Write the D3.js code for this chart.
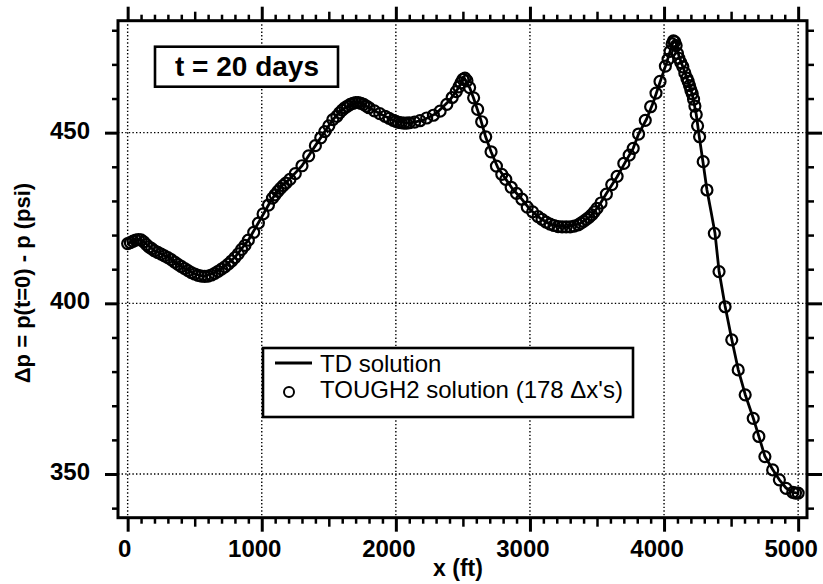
<!DOCTYPE html>
<html>
<head>
<meta charset="utf-8">
<script src="https://cdn.jsdelivr.net/npm/d3@7"></script>
<style>
  html, body { margin: 0; padding: 0; background: #fff; }
  svg { display: block; font-family: "Liberation Sans", Arial, Helvetica, sans-serif; }
</style>
</head>
<body>
<svg id="chart" width="823" height="584"></svg>
<script>
// ---- data ----
const titleText = "t = 20 days";
const xLabel = "x (ft)";
const yLabel = "\u0394p = p(t=0) - p (psi)";
const legendLine = "TD solution";
const legendCircle = "TOUGH2 solution (178 \u0394x's)";

const xTickValues = [0, 1000, 2000, 3000, 4000, 5000];
const xTickLabels = ["0", "1000", "2000", "3000", "4000", "5000"];
const yTickValues = [350, 400, 450];
const yTickLabels = ["350", "400", "450"];

// TD solution (line)
const tdX = [0,50,100,150,200,300,400,500,570,650,700,800,900,1000,1070,1150,1200,1300,1400,1470,1530,1600,1700,1750,1800,1900,2000,2100,2200,2300,2400,2470,2510,2550,2580,2630,2670,2710,2760,2820,2870,2930,3000,3080,3160,3270,3370,3450,3510,3570,3650,3710,3770,3810,3870,3920,3970,4020,4060,4075,4090,4110,4140,4180,4210,4240,4262,4290,4320,4350,4380,4410,4455,4505,4553,4605,4665,4707,4752,4810,4860,4910,4960,5000];
const tdY = [417.6,418.3,418.7,417.0,415.5,413.5,410.8,408.6,407.9,409.0,410.2,413.5,418.5,425.3,430.2,434.5,436.1,440.3,446.2,450.3,453.8,456.8,458.7,458.5,457.3,455.2,453.3,452.8,453.6,455.6,459.4,463.3,466.0,463.2,460.1,454.2,448.7,444.4,439.8,436.4,433.5,431.0,427.5,424.8,423.0,422.4,423.3,425.4,428.3,432.2,437.1,441.3,445.4,449.6,454.0,458.9,464.8,470.6,475.8,476.9,476.2,472.6,469.3,465.0,461.3,455.4,449.0,441.5,433.2,427.0,420.5,409.5,399.2,389.4,380.6,373.3,366.4,361.0,355.2,351.3,348.3,345.9,344.6,344.4];

// TOUGH2 solution (circles)
const toughX = [0,20,40,60,80,100,120,140,160,180,200,225,250,275,300,325,350,375,400,425,450,475,500,525,550,575,600,625,650,675,700,725,750,775,800,825,850,875,900,
  940,975,1010,1050,1080,1100,1120,1140,1160,1180,1210,1250,1300,
  1350,1400,1440,1470,1500,1530,
  1560,1580,1600,1620,1640,1660,1680,1700,1720,1740,1760,1780,1800,
  1840,1880,1920,1950,1980,
  2000,2020,2040,2060,2080,2100,
  2140,2180,2230,2280,2330,2380,2420,
  2450,2470,2485,2500,2515,2530,
  2550,2580,2610,2640,2670,2710,2750,2790,2820,2860,2900,2940,2980,3020,3060,
  3090,3120,3150,3180,3210,3240,3270,3300,3330,3360,3380,3400,
  3420,3440,3460,3480,3500,3530,
  3570,3610,3650,3700,3740,3770,3810,3860,3900,3940,3970,
  4010,4030,4045,4060,4070,4080,4090,
  4100,4110,4125,4140,4155,4170,4180,4190,4200,4210,4220,4230,4240,4250,
  4265,4292,4320,4375,4410,4455,4505,4553,4605,4665,4707,4752,4810,4860,4910,4960,4980,5000];
const toughY = [417.5,417.8,418.2,418.5,418.7,418.6,418.0,417.2,416.5,416.0,415.4,414.9,414.4,413.9,413.4,412.8,412.1,411.4,410.8,410.2,409.6,409.0,408.6,408.2,408.0,407.9,408.0,408.3,408.8,409.4,410.0,410.7,411.5,412.4,413.4,414.5,415.8,417.0,418.5,
  420.8,423.5,426.2,428.8,430.8,431.8,432.8,433.7,434.5,435.2,436.3,438.0,440.3,
  443.2,446.2,448.5,450.3,452.0,453.8,
  454.8,455.8,456.6,457.3,457.8,458.3,458.6,458.8,458.8,458.6,458.3,457.8,457.3,
  456.4,455.6,454.8,454.2,453.6,
  453.3,453.0,452.9,452.8,452.8,452.9,
  453.1,453.5,454.3,455.1,456.3,458.3,460.3,
  462.0,463.4,464.6,465.6,466.0,465.2,
  463.2,460.2,456.8,453.2,448.8,444.4,440.2,437.8,436.3,434.0,432.2,430.5,428.2,426.8,425.4,
  424.6,423.8,423.2,422.8,422.5,422.4,422.4,422.4,422.6,423.0,423.5,424.0,
  424.6,425.2,425.9,426.8,427.8,429.4,
  432.0,434.8,437.2,441.0,443.4,445.4,449.6,453.6,457.6,461.6,465.0,
  469.5,471.5,473.8,476.0,476.9,476.6,475.5,
  473.2,471.8,470.5,469.3,467.5,466.0,465.0,463.8,462.5,461.4,459.8,457.8,455.3,452.0,
  448.8,441.5,433.2,420.5,409.3,399.0,389.3,380.5,373.2,366.3,361.0,355.1,351.2,348.3,345.8,344.6,344.4,344.4];

// ---- layout ----
const svg = d3.select("#chart");
const L = 118, R = 807, T = 20.7, B = 517.7;

const x = d3.scaleLinear().domain([-72, 5066]).range([L, R]);
const y = d3.scaleLinear().domain([337.2, 482.8]).range([B, T]);

const xMinor = d3.range(100, 5000, 100).filter(v => v % 500 !== 0);
const xMid = d3.range(500, 5000, 1000);
const yMinor = d3.range(340, 481, 10).filter(v => v % 50 !== 0);

// gridlines (dotted)
const grid = svg.append("g").attr("stroke", "#000").attr("stroke-width", 1.4).attr("stroke-dasharray", "1.4 2.2");
grid.selectAll("line.gx").data(xTickValues).join("line")
  .attr("x1", d => x(d)).attr("x2", d => x(d)).attr("y1", T).attr("y2", B);
grid.selectAll("line.gy").data(yTickValues).join("line")
  .attr("x1", L).attr("x2", R).attr("y1", d => y(d)).attr("y2", d => y(d));

function styleAxis(g, w) {
  g.selectAll(".tick line").attr("stroke", "#000").attr("stroke-width", w);
  g.select(".domain").remove();
  g.selectAll("text").remove();
}

function addTicks(axisFn, scale, vals, size, transform, w) {
  const g = svg.append("g").attr("transform", transform)
    .call(axisFn(scale).tickValues(vals).tickSize(size).tickFormat(""));
  styleAxis(g, w);
}
// bottom
addTicks(d3.axisBottom, x, xMinor, 6, `translate(0,${B})`, 2.5);
addTicks(d3.axisBottom, x, xMid, 9, `translate(0,${B})`, 2.5);
addTicks(d3.axisBottom, x, xTickValues, 14, `translate(0,${B})`, 3);
// top
addTicks(d3.axisTop, x, xMinor, 6, `translate(0,${T})`, 2.5);
addTicks(d3.axisTop, x, xMid, 9, `translate(0,${T})`, 2.5);
addTicks(d3.axisTop, x, xTickValues, 14, `translate(0,${T})`, 3);
// left
addTicks(d3.axisLeft, y, yMinor, 6, `translate(${L},0)`, 2.5);
addTicks(d3.axisLeft, y, yTickValues, 13, `translate(${L},0)`, 3);
// right
addTicks(d3.axisRight, y, yMinor, 7, `translate(${R},0)`, 2.5);
addTicks(d3.axisRight, y, yTickValues, 15, `translate(${R},0)`, 3);

// frame
svg.append("rect").attr("x", L).attr("y", T).attr("width", R - L).attr("height", B - T)
  .attr("fill", "none").attr("stroke", "#000").attr("stroke-width", 3);

// tick labels
svg.append("g").selectAll("text").data(xTickValues).join("text")
  .attr("x", (d, i) => x(d) - (i === 0 ? 3 : 7)).attr("y", 557).attr("text-anchor", "middle")
  .attr("font-size", 24).attr("font-weight", "bold")
  .text((d, i) => xTickLabels[i]);
svg.append("g").selectAll("text").data(yTickValues).join("text")
  .attr("x", 90).attr("y", d => y(d) + 6).attr("text-anchor", "end")
  .attr("font-size", 24).attr("font-weight", "bold")
  .text((d, i) => yTickLabels[i]);

// axis labels
svg.append("text").attr("x", 458).attr("y", 576).attr("text-anchor", "middle")
  .attr("font-size", 23).attr("font-weight", "bold").text(xLabel);
svg.append("text").attr("transform", "translate(30,283) rotate(-90)").attr("text-anchor", "middle")
  .attr("font-size", 22).attr("font-weight", "bold").text(yLabel);

// data line
const line = d3.line().x((d, i) => x(tdX[i])).y((d, i) => y(tdY[i]));
svg.append("path").datum(tdX).attr("d", line)
  .attr("fill", "none").attr("stroke", "#000").attr("stroke-width", 2.8).attr("stroke-linejoin", "round");

// circles
svg.append("g").selectAll("circle").data(toughX).join("circle")
  .attr("cx", d => x(d)).attr("cy", (d, i) => y(toughY[i])).attr("r", 5.5)
  .attr("fill", "none").attr("stroke", "#000").attr("stroke-width", 2.2);

// title box
svg.append("rect").attr("x", 155).attr("y", 46.7).attr("width", 183).attr("height", 40)
  .attr("fill", "#fff").attr("stroke", "#000").attr("stroke-width", 2.6);
svg.append("text").attr("x", 247).attr("y", 76).attr("text-anchor", "middle")
  .attr("font-size", 28).attr("font-weight", "bold").text(titleText);

// legend
svg.append("rect").attr("x", 263).attr("y", 348).attr("width", 370).attr("height", 69)
  .attr("fill", "#fff").attr("stroke", "#000").attr("stroke-width", 2.6);
svg.append("line").attr("x1", 275).attr("x2", 312).attr("y1", 363).attr("y2", 363)
  .attr("stroke", "#000").attr("stroke-width", 3);
svg.append("circle").attr("cx", 289).attr("cy", 392).attr("r", 5)
  .attr("fill", "none").attr("stroke", "#000").attr("stroke-width", 2);
svg.append("text").attr("x", 320).attr("y", 372).attr("font-size", 24).text(legendLine);
svg.append("text").attr("x", 320).attr("y", 398).attr("font-size", 24).text(legendCircle);
</script>
</body>
</html>
